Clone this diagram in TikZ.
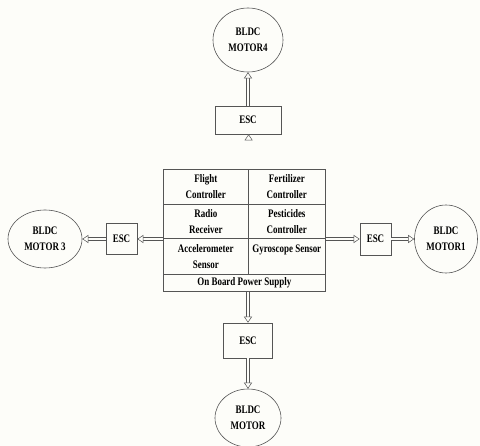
\documentclass[tikz,border=0pt]{standalone}
\usepackage{fontspec}
\setmainfont{Liberation Serif}[FakeStretch=0.78]
\usetikzlibrary{arrows.meta,positioning,fit,shapes,calc}
\definecolor{ln}{RGB}{85,85,85}
\definecolor{bg}{RGB}{253,253,249}

\begin{document}
\begin{tikzpicture}[x=1pt,y=-1pt,font=\fontsize{11.5}{16}\selectfont\bfseries,
  motor/.style={ellipse, draw=ln, line width=0.6pt, align=center, inner sep=0pt},
  esc/.style={rectangle, draw=ln, line width=0.6pt, inner sep=0pt},
  cell/.style={rectangle, draw=ln, line width=0.6pt, align=center, inner sep=0pt, anchor=north west},
  feed/.style={draw=ln, line width=0.5pt, double=bg, double distance=2.6pt,
    -{Triangle[open, width=8pt, length=6pt, fill=bg]}}]
\fill[bg] (0,0) rectangle (480,446);
\useasboundingbox (0,0) rectangle (480,446);

% control block
\node[cell, minimum width=85pt, minimum height=35pt] (fc) at (163,169) {Flight\\Controller};
\node[cell, minimum width=77pt, minimum height=35pt] (fz) at (248,169) {Fertilizer\\Controller};
\node[cell, minimum width=85pt, minimum height=34pt] (rr) at (163,204) {Radio\\Receiver};
\node[cell, minimum width=77pt, minimum height=34pt] (pc) at (248,204) {Pesticides\\Controller};
\node[cell, minimum width=85pt, minimum height=36pt] (ac) at (163,238) {Accelerometer\\Sensor};
\node[cell, minimum width=77pt, minimum height=36pt] (gy) at (248,238) {Gyroscope Sensor\\\mbox{}};
\node[cell, minimum width=162pt, minimum height=17pt] (pw) at (163,274) {On Board Power Supply};

% speed controllers
\node[esc, minimum width=66pt, minimum height=28pt] (escT) at (248,120) {ESC};
\node[esc, minimum width=49pt, minimum height=35pt] (escB) at (248,340.5) {ESC};
\node[esc, minimum width=31pt, minimum height=31pt] (escL) at (121.5,239) {ESC};
\node[esc, minimum width=31pt, minimum height=32pt] (escR) at (375.5,239) {ESC};

% motors
\node[motor, minimum width=70pt, minimum height=64pt] (mT) at (248,40) {BLDC\\MOTOR4};
\node[motor, minimum width=66pt, minimum height=58pt] (mB) at (248,418) {BLDC\\MOTOR};
\node[motor, minimum width=74pt, minimum height=58pt] (mL) at (45,239) {BLDC\\MOTOR 3};
\node[motor, minimum width=63pt, minimum height=68pt] (mR) at (446,239) {BLDC\\MOTOR1};

\draw[feed] (fc.north east) -- (fc.north east |- escT.south);
\draw[feed] (escT) -- (mT);
\draw[feed] (pw.south -| escB) -- (escB.north);
\draw[feed] (escB) -- (mB);
\draw[feed] (ac.west |- escL) -- (escL.east);
\draw[feed] (escL) -- (mL);
\draw[feed] (gy.east |- escR) -- (escR.west);
\draw[feed] (escR) -- (mR);

\end{tikzpicture}
\end{document}
